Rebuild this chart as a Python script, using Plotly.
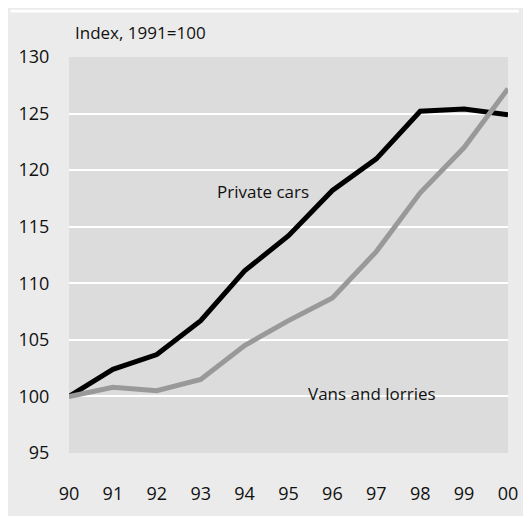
import plotly.graph_objects as go

years = [1990, 1991, 1992, 1993, 1994, 1995, 1996, 1997, 1998, 1999, 2000]
tick_labels = ["90", "91", "92", "93", "94", "95", "96", "97", "98", "99", "00"]
private_cars = [100.0, 102.4, 103.7, 106.7, 111.1, 114.2, 118.2, 121.0, 125.2, 125.4, 124.9]
vans_lorries = [100.0, 100.8, 100.5, 101.5, 104.5, 106.7, 108.7, 112.8, 118.0, 122.0, 127.2]
y_ticks = [95, 100, 105, 110, 115, 120, 125, 130]

# the page body keeps its default 8px margin, so the figure starts at (8, 8)
W, H = 521, 508
L, R, T, B = 60, 11, 49, 49
pw, ph = W - L - R, H - T - B

FONT = "Open Sans"
TXT = "#111111"

fig = go.Figure()
fig.add_trace(go.Scatter(x=years, y=private_cars, mode="lines", name="Private cars",
                         line=dict(color="#000000", width=5), showlegend=False))
fig.add_trace(go.Scatter(x=years, y=vans_lorries, mode="lines", name="Vans and lorries",
                         line=dict(color="#999999", width=5), showlegend=False))

def px_x(p):
    return (p - L) / pw

def px_y(p):
    return (H - B - p) / ph

shapes = [
    dict(type="rect", xref="paper", yref="paper", x0=px_x(0), x1=px_x(W), y0=px_y(3), y1=px_y(0),
         fillcolor="white", line=dict(width=0), layer="below"),
]

fig.update_layout(
    width=W, height=H,
    margin=dict(l=L, r=R, t=T, b=B, pad=0),
    paper_bgcolor="#ebebeb",
    plot_bgcolor="#dcdcdc",
    font=dict(family=FONT, size=17, color=TXT),
    shapes=shapes,
    xaxis=dict(range=[1990, 2000], tickvals=years, ticktext=tick_labels,
               showgrid=False, zeroline=False, showline=False,
               ticks="outside", ticklen=24, tickcolor="rgba(0,0,0,0)",
               tickfont=dict(family=FONT, size=18, color=TXT)),
    yaxis=dict(range=[95, 130], tickvals=y_ticks, showgrid=True, gridcolor="white",
               gridwidth=2, zeroline=False, showline=False,
               ticks="outside", ticklen=15, tickcolor="rgba(0,0,0,0)",
               tickfont=dict(family=FONT, size=18, color=TXT)),
    annotations=[
        dict(text="Index, 1991=100", xref="paper", yref="paper", x=px_x(64), y=px_y(24),
             xanchor="left", yanchor="middle", showarrow=False,
             font=dict(family=FONT, size=17, color=TXT)),
        dict(text="Private cars", xref="x", yref="y", x=1994.42, y=118.1,
             xanchor="center", yanchor="middle", showarrow=False,
             font=dict(family=FONT, size=17, color=TXT)),
        dict(text="Vans and lorries", xref="x", yref="y", x=1996.91, y=100.3,
             xanchor="center", yanchor="middle", showarrow=False,
             font=dict(family=FONT, size=17, color=TXT)),
    ],
)

fig.write_html("out.html", config={"displayModeBar": False})
